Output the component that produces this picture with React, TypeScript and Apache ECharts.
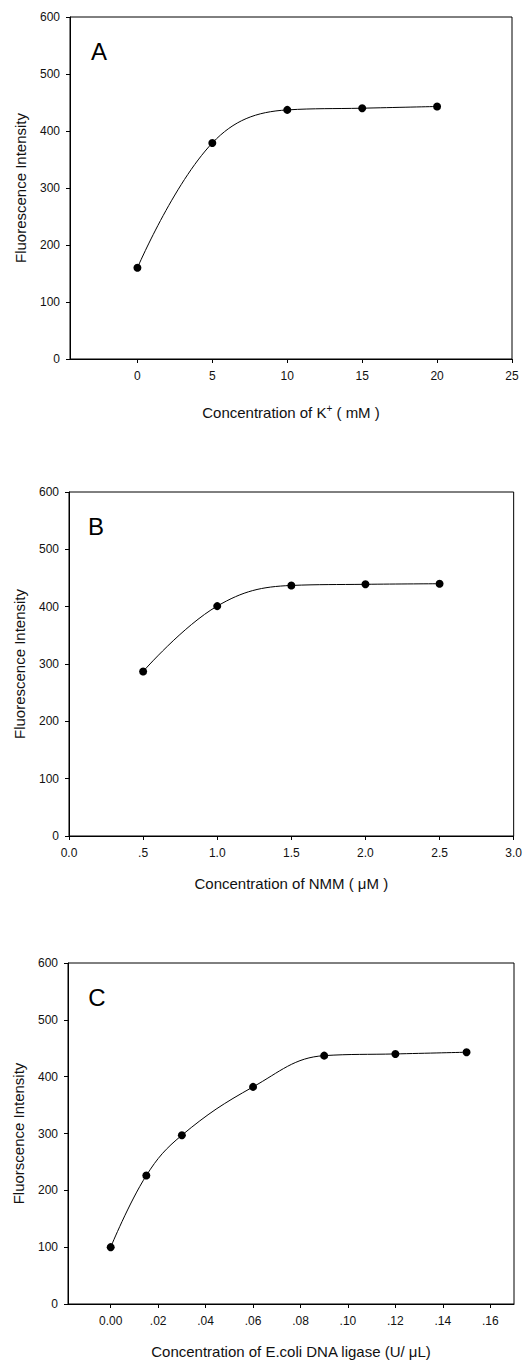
import React, { useEffect, useRef } from "react";
import * as echarts from "echarts";

// Panel A: K+ concentration (mM)
const xA = [0, 5, 10, 15, 20];
const yA = [160, 379, 437, 440, 443];
const ticksA = [0, 5, 10, 15, 20, 25];

// Panel B: NMM concentration (μM)
const xB = [0.5, 1.0, 1.5, 2.0, 2.5];
const yB = [287, 401, 437, 439, 440];
const ticksB = [0, 0.5, 1.0, 1.5, 2.0, 2.5, 3.0];

// Panel C: E.coli DNA ligase (U/μL)
const xC = [0, 0.015, 0.03, 0.06, 0.09, 0.12, 0.15];
const yC = [100, 226, 297, 382, 437, 440, 443];
const ticksC = [0, 0.02, 0.04, 0.06, 0.08, 0.1, 0.12, 0.14, 0.16];

const yTicks = [0, 100, 200, 300, 400, 500, 600];

const FONT = "'Liberation Sans', Arial, sans-serif";

const fmtB = (v: number) => (v === 0 ? "0.0" : v === 0.5 ? ".5" : v.toFixed(1));
const fmtC = (v: number) => (v === 0 ? "0.00" : v.toFixed(2).replace(/^0/, ""));

export default function App() {
  const ref = useRef<HTMLDivElement>(null);
  useEffect(() => {
    if (!ref.current) return;
    const chart = echarts.init(ref.current, null, { renderer: "svg" });
    const grids = [
      { left: 70, top: 17, width: 442, height: 342 },
      { left: 69, top: 492, width: 445, height: 344 },
      { left: 68, top: 963, width: 446, height: 341 },
    ].map((g) => ({ ...g, show: true, borderColor: "#000", borderWidth: 1, backgroundColor: "transparent", containLabel: false }));

    const axisLine = { show: true, onZero: false, lineStyle: { color: "#000", width: 1 } };
    const axisTick = { show: true, inside: false, length: 4, lineStyle: { color: "#000", width: 1 } };
    const labelStyle = { color: "#111", fontFamily: FONT, fontSize: 12 };
    const nameStyle = { color: "#111", fontFamily: FONT, fontSize: 15 };

    const mkX = (i: number, min: number, max: number, ticks: number[], fmt: (v: number) => string, name: string, gap: number, rich?: any) => ({
      type: "value",
      gridIndex: i,
      min,
      max,
      axisLine,
      axisTick: { ...axisTick, customValues: ticks },
      axisLabel: { ...labelStyle, margin: 11, customValues: ticks, formatter: fmt },
      splitLine: { show: false },
      name,
      nameLocation: "middle",
      nameGap: gap,
      nameTextStyle: { ...nameStyle, rich },
    });
    const mkY = (i: number, name: string) => ({
      type: "value",
      gridIndex: i,
      min: 0,
      max: 600,
      interval: 100,
      axisLine,
      axisTick,
      axisLabel: { ...labelStyle, margin: 10 },
      splitLine: { show: false },
      name,
      nameLocation: "middle",
      nameGap: 42,
      nameTextStyle: { ...nameStyle },
    });

    const ser = (i: number, xs: number[], ys: number[]) => ({
      type: "line",
      xAxisIndex: i,
      yAxisIndex: i,
      data: xs.map((x, k) => [x, ys[k]]),
      smooth: 0.4,
      symbol: "circle",
      symbolSize: 8,
      itemStyle: { color: "#000" },
      lineStyle: { color: "#000", width: 1 },
    });

    chart.setOption({
      animation: false,
      backgroundColor: "#fff",
      grid: grids,
      xAxis: [
        mkX(0, -4.5, 25, ticksA, (v: number) => String(v), "Concentration of K{sup|+} ( mM )", 44, {
          sup: { fontSize: 10, fontFamily: FONT, color: "#111", verticalAlign: "top", padding: [0, 0, 8, 0] },
        }),
        mkX(1, 0, 3, ticksB, fmtB, "Concentration of NMM ( μM )", 40),
        mkX(2, -0.018, 0.17, ticksC, fmtC, "Concentration of E.coli DNA ligase (U/ μL)", 40),
      ],
      yAxis: [mkY(0, "Fluorescence Intensity"), mkY(1, "Fluorescence Intensity"), mkY(2, "Fluorscence Intensity")],
      series: [ser(0, xA, yA), ser(1, xB, yB), ser(2, xC, yC)],
      graphic: [
        { type: "text", x: 99, y: 51, style: { text: "A", font: `24px ${FONT}`, fill: "#000", align: "center", verticalAlign: "middle" } },
        { type: "text", x: 96, y: 526, style: { text: "B", font: `24px ${FONT}`, fill: "#000", align: "center", verticalAlign: "middle" } },
        { type: "text", x: 97, y: 997, style: { text: "C", font: `24px ${FONT}`, fill: "#000", align: "center", verticalAlign: "middle" } },
      ],
    });
    return () => chart.dispose();
  }, []);
  return <div ref={ref} style={{ position: "absolute", left: 0, top: 0, width: 525, height: 1365 }} />;
}
